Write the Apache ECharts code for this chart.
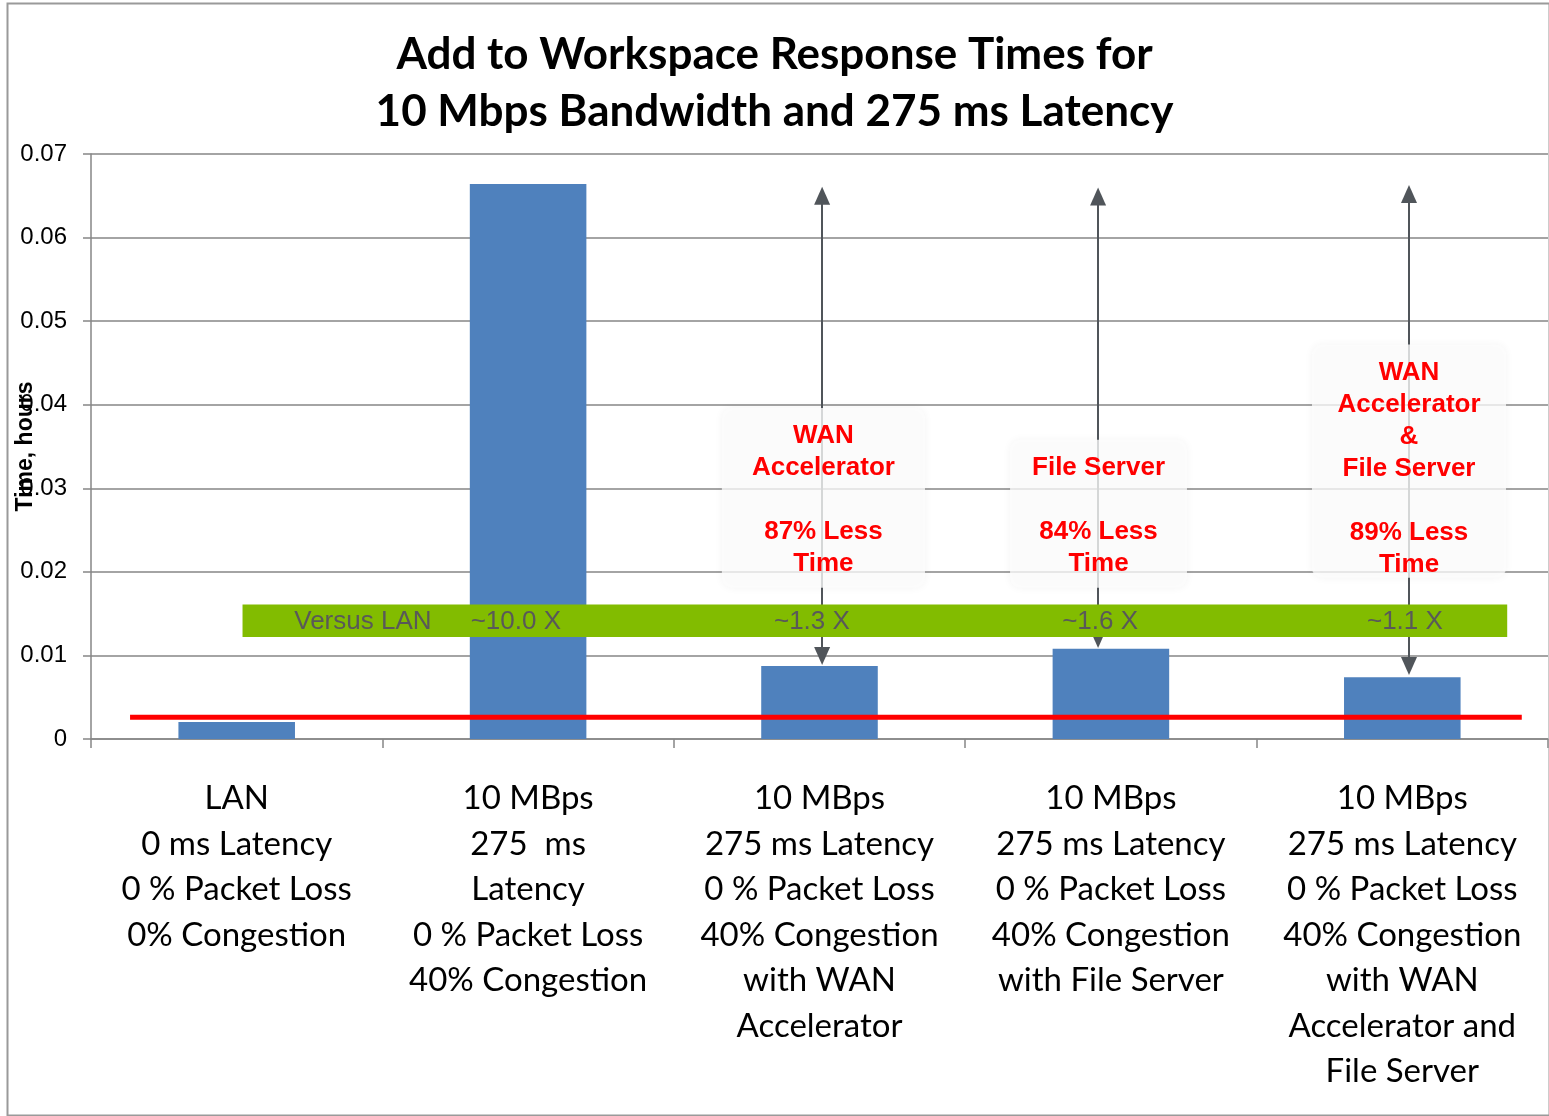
<!DOCTYPE html>
<html>
<head>
<meta charset="utf-8">
<script src="https://cdn.jsdelivr.net/npm/echarts@6/dist/echarts.min.js"></script>
<style>
    html, body { margin: 0; padding: 0; background: #fff; }
    #main { width: 1549px; height: 1116px; }
</style>
</head>
<body>
<div id="main"></div>
<script>
    // 数据
    var categories = [
        'LAN\n0 ms Latency\n0 % Packet Loss\n0% Congestion',
        '10 MBps\n275  ms\nLatency\n0 % Packet Loss\n40% Congestion',
        '10 MBps\n275 ms Latency\n0 % Packet Loss\n40% Congestion\nwith WAN\nAccelerator',
        '10 MBps\n275 ms Latency\n0 % Packet Loss\n40% Congestion\nwith File Server',
        '10 MBps\n275 ms Latency\n0 % Packet Loss\n40% Congestion\nwith WAN\nAccelerator and\nFile Server'
    ];
    var times = [0.00203, 0.0664, 0.00874, 0.0108, 0.0074];
    var yTicks = [0, 0.01, 0.02, 0.03, 0.04, 0.05, 0.06, 0.07];

    // LAN baseline (red line), x in category units
    var lanLine = [[0.134, 0.0026], [4.91, 0.0026]];
    // green "versus LAN" band: x0, x1, y0, y1
    var versusBand = [[0.52, 4.86, 0.0122, 0.0161]];
    var versusText = [
        [0.933, 0.0140, 'Versus LAN'],
        [1.458, 0.0140, '~10.0 X'],
        [2.474, 0.0140, '~1.3 X'],
        [3.463, 0.0140, '~1.6 X'],
        [4.509, 0.0140, '~1.1 X']
    ];
    // arrows: x, top, bottom (centre of the arrow heads)
    var arrows = [
        [2.509, 0.0650, 0.00993],
        [3.456, 0.0649, 0.01197],
        [4.523, 0.0652, 0.00874]
    ];
    // callout boxes: x0, x1, yTop, yBottom, text
    var callouts = [
        [2.165, 2.862, 0.0396, 0.0181, 'WAN\nAccelerator\n\n87% Less\nTime'],
        [3.154, 3.761, 0.0358, 0.0181, 'File Server\n\n84% Less\nTime'],
        [4.190, 4.856, 0.0472, 0.0193, 'WAN\nAccelerator\n&\nFile Server\n\n89% Less\nTime']
    ];

    var myChart = echarts.init(document.getElementById('main'));

    var arrowLines = arrows.map(function (a) {
        return [{coord: [a[0], a[1]]}, {coord: [a[0], a[2]]}];
    });

    var option = {
        backgroundColor: '#fff',
        animation: false,
        title: {
            text: 'Add to Workspace Response Times for\n10 Mbps Bandwidth and 275 ms Latency',
            left: 'center',
            top: 21,
            textStyle: {
                fontFamily: 'Lato',
                fontWeight: 'bold',
                fontSize: 44,
                lineHeight: 57,
                color: '#000'
            }
        },
        graphic: [{
            type: 'rect',
            left: 5,
            top: 1,
            shape: {width: 1542, height: 1112},
            style: {fill: 'none', stroke: '#9a9a9a', lineWidth: 2},
            z: 100
        }],
        grid: {
            left: 91,
            right: 1,
            top: 154,
            bottom: 377,
            outerBoundsMode: 'none'
        },
        xAxis: [{
            type: 'category',
            data: categories,
            axisLine: {lineStyle: {color: '#868686', width: 1.5}},
            axisTick: {show: true, length: 9, lineStyle: {color: '#868686', width: 1.5}},
            axisLabel: {
                interval: 0,
                margin: 37,
                fontFamily: 'Lato',
                fontSize: 33,
                lineHeight: 45.5,
                color: '#000'
            }
        }, {
            type: 'value',
            min: 0,
            max: 5,
            show: false
        }],
        yAxis: {
            type: 'value',
            min: 0,
            max: 0.07,
            interval: 0.01,
            name: 'Time, hours',
            nameLocation: 'middle',
            nameRotate: 90,
            nameGap: 54,
            nameMoveOverlap: false,
            nameTextStyle: {
                fontFamily: 'Liberation Sans',
                fontWeight: 'bold',
                fontSize: 23,
                color: '#000'
            },
            axisLine: {show: true, lineStyle: {color: '#868686', width: 1.5}},
            axisTick: {show: true, length: 8, lineStyle: {color: '#868686', width: 1.5}},
            axisLabel: {
                margin: 24,
                fontFamily: 'Liberation Sans',
                fontSize: 24,
                color: '#000',
                formatter: function (v) {
                    var i = Math.round(v * 100);
                    return yTicks[i] === 0 ? '0' : yTicks[i].toFixed(2);
                }
            },
            splitLine: {lineStyle: {color: '#868686', width: 1.5}}
        },
        series: [
            {
                type: 'bar',
                data: times,
                barWidth: '40%',
                itemStyle: {color: '#4f81bd'},
                z: 2
            },
            { // arrows
                type: 'line',
                xAxisIndex: 1,
                data: [],
                z: 3,
                markLine: {
                    silent: true,
                    z: 3,
                    symbol: ['triangle', 'triangle'],
                    symbolSize: [16, 18],
                    label: {show: false},
                    lineStyle: {color: '#50555a', width: 2, type: 'solid'},
                    data: arrowLines
                }
            },
            { // green band
                type: 'custom',
                xAxisIndex: 1,
                data: versusBand,
                z: 4,
                renderItem: function (params, api) {
                    var p0 = api.coord([api.value(0), api.value(3)]);
                    var p1 = api.coord([api.value(1), api.value(2)]);
                    return {
                        type: 'rect',
                        shape: {x: p0[0], y: p0[1], width: p1[0] - p0[0], height: p1[1] - p0[1]},
                        style: {fill: '#82bc00'}
                    };
                }
            },
            { // green band text
                type: 'custom',
                xAxisIndex: 1,
                data: versusText,
                z: 5,
                renderItem: function (params, api) {
                    var d = versusText[params.dataIndex];
                    var p = api.coord([d[0], d[1]]);
                    return {
                        type: 'text',
                        x: p[0],
                        y: p[1],
                        style: {
                            text: d[2],
                            align: 'center',
                            verticalAlign: 'middle',
                            fontFamily: 'Liberation Sans',
                            fontSize: 26,
                            fill: '#595959'
                        }
                    };
                }
            },
            { // red LAN line
                type: 'line',
                xAxisIndex: 1,
                data: lanLine,
                symbol: 'none',
                z: 6,
                lineStyle: {color: '#ff0000', width: 5}
            },
            { // callout boxes
                type: 'custom',
                xAxisIndex: 1,
                data: callouts,
                z: 7,
                renderItem: function (params, api) {
                    var d = callouts[params.dataIndex];
                    var p0 = api.coord([d[0], d[2]]);
                    var p1 = api.coord([d[1], d[3]]);
                    return {
                        type: 'group',
                        children: [{
                            type: 'rect',
                            shape: {x: p0[0], y: p0[1], width: p1[0] - p0[0], height: p1[1] - p0[1], r: 10},
                            style: {
                                fill: 'rgba(253,253,253,0.78)',
                                shadowBlur: 8,
                                shadowColor: 'rgba(0,0,0,0.06)'
                            }
                        }, {
                            type: 'text',
                            x: (p0[0] + p1[0]) / 2,
                            y: p0[1] + 12,
                            style: {
                                text: d[4],
                                align: 'center',
                                verticalAlign: 'top',
                                fontFamily: 'Liberation Sans',
                                fontWeight: 'bold',
                                fontSize: 26,
                                lineHeight: 32,
                                fill: '#ff0000'
                            }
                        }]
                    };
                }
            }
        ]
    };
    myChart.setOption(option);
</script>
</body>
</html>
